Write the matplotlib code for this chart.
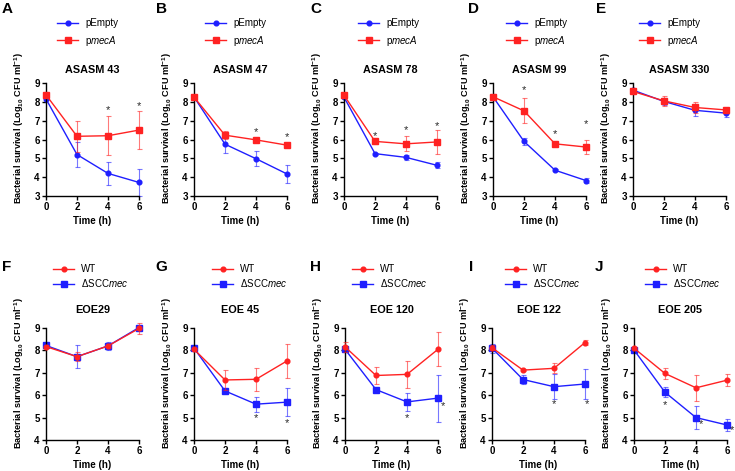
import matplotlib
matplotlib.use("Agg")
import matplotlib.pyplot as plt

plt.rcParams['font.family'] = ['Liberation Sans', 'DejaVu Sans']
plt.rcParams['mathtext.fontset'] = 'custom'
plt.rcParams['mathtext.rm'] = 'Liberation Sans'
plt.rcParams['mathtext.it'] = 'Liberation Sans:italic'
plt.rcParams['mathtext.bf'] = 'Liberation Sans:bold'

# ---------------- data ----------------
time = [0, 2, 4, 6]

top_titles = ["ASASM 43", "ASASM 47", "ASASM 78", "ASASM 99", "ASASM 330"]
top_letters = ["A", "B", "C", "D", "E"]
bot_titles = ["EOE29", "EOE 45", "EOE 120", "EOE 122", "EOE 205"]
bot_letters = ["F", "G", "H", "I", "J"]

# top row: pEmpty (blue circles) vs pmecA (red squares)
asasm43_empty = [8.15, 5.20, 4.20, 3.72]
asasm43_empty_err = [0.05, 0.67, 0.60, 0.70]
asasm43_meca = [8.37, 6.17, 6.20, 6.50]
asasm43_meca_err = [0.05, 0.82, 1.03, 1.03]
asasm43_star_x = [4, 6]
asasm43_star_y = [7.55, 7.80]

asasm47_empty = [8.26, 5.75, 4.98, 4.17]
asasm47_empty_err = [0.05, 0.45, 0.40, 0.47]
asasm47_meca = [8.25, 6.23, 5.98, 5.70]
asasm47_meca_err = [0.05, 0.20, 0.05, 0.07]
asasm47_star_x = [4, 6]
asasm47_star_y = [6.40, 6.15]

asasm78_empty = [8.25, 5.25, 5.05, 4.63]
asasm78_empty_err = [0.05, 0.05, 0.12, 0.15]
asasm78_meca = [8.35, 5.90, 5.77, 5.87]
asasm78_meca_err = [0.10, 0.12, 0.40, 0.63]
asasm78_star_x = [2, 4, 6]
asasm78_star_y = [6.20, 6.50, 6.70]

asasm99_empty = [8.27, 5.90, 4.37, 3.82]
asasm99_empty_err = [0.15, 0.20, 0.06, 0.15]
asasm99_meca = [8.27, 7.52, 5.77, 5.60]
asasm99_meca_err = [0.10, 0.67, 0.07, 0.35]
asasm99_star_x = [2, 4, 6]
asasm99_star_y = [8.60, 6.30, 6.80]

asasm330_empty = [8.62, 8.02, 7.55, 7.40]
asasm330_empty_err = [0.05, 0.20, 0.28, 0.18]
asasm330_meca = [8.55, 8.05, 7.70, 7.57]
asasm330_meca_err = [0.05, 0.25, 0.28, 0.05]
asasm330_star_x = []
asasm330_star_y = []

# bottom row: WT (red circles) vs dSCCmec (blue squares)
eoe29_wt = [8.17, 7.72, 8.20, 8.98]
eoe29_wt_err = [0.05, 0.20, 0.08, 0.25]
eoe29_mut = [8.22, 7.72, 8.20, 9.02]
eoe29_mut_err = [0.05, 0.52, 0.18, 0.03]
eoe29_star_x = []
eoe29_star_y = []

eoe45_wt = [8.05, 6.68, 6.71, 7.53]
eoe45_wt_err = [0.05, 0.43, 0.51, 0.77]
eoe45_mut = [8.10, 6.19, 5.60, 5.69]
eoe45_mut_err = [0.05, 0.05, 0.33, 0.63]
eoe45_star_x = [4, 6]
eoe45_star_y = [5.00, 4.75]

eoe120_wt = [8.16, 6.88, 6.93, 8.05]
eoe120_wt_err = [0.23, 0.37, 0.60, 0.76]
eoe120_mut = [8.05, 6.25, 5.70, 5.87]
eoe120_mut_err = [0.05, 0.05, 0.42, 1.05]
eoe120_star_x = [4, 6.3]
eoe120_star_y = [5.00, 5.50]

eoe122_wt = [8.12, 7.12, 7.20, 8.35]
eoe122_wt_err = [0.10, 0.05, 0.23, 0.10]
eoe122_mut = [8.10, 6.70, 6.38, 6.50]
eoe122_mut_err = [0.20, 0.22, 0.55, 0.65]
eoe122_star_x = [4, 6.15]
eoe122_star_y = [5.60, 5.60]

eoe205_wt = [8.10, 6.97, 6.33, 6.67]
eoe205_wt_err = [0.05, 0.23, 0.58, 0.28]
eoe205_mut = [8.02, 6.13, 5.00, 4.67]
eoe205_mut_err = [0.10, 0.22, 0.50, 0.28]
eoe205_star_x = [2, 4.35, 6.35]
eoe205_star_y = [5.55, 4.72, 4.45]

top_data = [
    (asasm43_empty, asasm43_empty_err, asasm43_meca, asasm43_meca_err, asasm43_star_x, asasm43_star_y),
    (asasm47_empty, asasm47_empty_err, asasm47_meca, asasm47_meca_err, asasm47_star_x, asasm47_star_y),
    (asasm78_empty, asasm78_empty_err, asasm78_meca, asasm78_meca_err, asasm78_star_x, asasm78_star_y),
    (asasm99_empty, asasm99_empty_err, asasm99_meca, asasm99_meca_err, asasm99_star_x, asasm99_star_y),
    (asasm330_empty, asasm330_empty_err, asasm330_meca, asasm330_meca_err, asasm330_star_x, asasm330_star_y),
]
bot_data = [
    (eoe29_wt, eoe29_wt_err, eoe29_mut, eoe29_mut_err, eoe29_star_x, eoe29_star_y),
    (eoe45_wt, eoe45_wt_err, eoe45_mut, eoe45_mut_err, eoe45_star_x, eoe45_star_y),
    (eoe120_wt, eoe120_wt_err, eoe120_mut, eoe120_mut_err, eoe120_star_x, eoe120_star_y),
    (eoe122_wt, eoe122_wt_err, eoe122_mut, eoe122_mut_err, eoe122_star_x, eoe122_star_y),
    (eoe205_wt, eoe205_wt_err, eoe205_mut, eoe205_mut_err, eoe205_star_x, eoe205_star_y),
]

# ---------------- style / layout ----------------
W, H = 735, 471
BLUE = "#1f1fff"
RED = "#ff2222"
fig = plt.figure(figsize=(W / 100, H / 100), dpi=100)

top_lefts = [46, 194, 344, 493, 633]
bot_lefts = [46, 194, 345, 492, 634]
ax_w = 93
top_y0, top_y1 = 83, 196
bot_y0, bot_y1 = 328, 440

top_leg_x = [57, 205, 358, 506, 639]
bot_leg_x = [53, 212, 352, 505, 645]
top_letter_x = [2, 156, 310, 468, 596]
bot_letter_x = [2, 155, 310, 469, 595]

ylabel = r'Bacterial survival (Log$_{\mathbf{10}}$ CFU ml$^{\mathbf{-1}}$)'


def style_axes(ax, ymin, ymax):
    ax.set_xlim(0, 6)
    ax.set_ylim(ymin, ymax)
    ax.set_xticks([0, 2, 4, 6])
    ax.set_yticks(range(ymin, ymax + 1))
    for s in ["top", "right"]:
        ax.spines[s].set_visible(False)
    for s in ["left", "bottom"]:
        ax.spines[s].set_linewidth(1.0)
    ax.tick_params(direction="out", length=3, width=1.0, pad=1.5, labelsize=7)
    for lab in ax.get_xticklabels() + ax.get_yticklabels():
        lab.set_fontweight("bold")
    ax.set_xlabel("Time (h)", fontsize=7, fontweight="bold", labelpad=3)
    ax.set_ylabel(ylabel, fontsize=6.6, fontweight="bold")
    ax.yaxis.set_label_coords(-0.21, 0.6)


def draw_series(ax, y, err, color, marker, ms, label, z):
    ax.errorbar(time, y, yerr=err, fmt="none", ecolor=color, alpha=0.6,
                elinewidth=0.8, capsize=1.8, capthick=0.8, zorder=z, clip_on=False)
    line, = ax.plot(time, y, color=color, marker=marker, ms=ms, lw=1.0, label=label,
                    zorder=z + 0.5, clip_on=False)
    return line


def panel(left, y0, y1, ymin, ymax, title, title_gap, letter, letter_x, letter_y,
          leg_x, leg_y, leg_space, series, legend_order, stars_x, stars_y):
    ax = fig.add_axes([left / W, 1 - y1 / H, ax_w / W, (y1 - y0) / H])
    style_axes(ax, ymin, ymax)
    lines = []
    for (y, err, color, marker, ms, label, z) in series:
        lines.append(draw_series(ax, y, err, color, marker, ms, label, z))
    hs = [lines[k] for k in legend_order]
    ax.legend(hs, [h.get_label() for h in hs], loc="center left",
              bbox_to_anchor=(leg_x / W, 1 - leg_y / H),
              bbox_transform=fig.transFigure, frameon=False, fontsize=7,
              handlelength=2.2, handletextpad=0.7, labelspacing=leg_space,
              borderpad=0, borderaxespad=0)
    for sx, sy in zip(stars_x, stars_y):
        ax.text(sx, sy, "*", ha="center", va="center", fontsize=8, color="#2a2a2a",
                clip_on=False, zorder=6)
    ax.text(0.5, 1 + title_gap / (y1 - y0), title, transform=ax.transAxes,
            ha="center", va="center", fontsize=7.8, fontweight="bold")
    fig.text(letter_x / W, 1 - letter_y / H, letter, ha="left", va="center",
             fontsize=11, fontweight="bold")
    return ax


for i in range(5):
    e, ee, m, me, sx, sy = top_data[i]
    series = [
        (e, ee, BLUE, "o", 3.4, "pEmpty", 2),
        (m, me, RED, "s", 3.8, r"p$\it{mecA}$", 3),
    ]
    panel(top_lefts[i], top_y0, top_y1, 3, 9, top_titles[i], 13,
          top_letters[i], top_letter_x[i], 9, top_leg_x[i], 33, 0.55,
          series, [0, 1], sx, sy)

for i in range(5):
    w, we, m, me, sx, sy = bot_data[i]
    series = [
        (m, me, BLUE, "s", 3.8, r"ΔSCC$\it{mec}$", 2),
        (w, we, RED, "o", 3.4, "WT", 3),
    ]
    panel(bot_lefts[i], bot_y0, bot_y1, 4, 9, bot_titles[i], 18,
          bot_letters[i], bot_letter_x[i], 267, bot_leg_x[i], 276.5, 0.3,
          series, [1, 0], sx, sy)

fig.savefig("out.png", dpi=100)
